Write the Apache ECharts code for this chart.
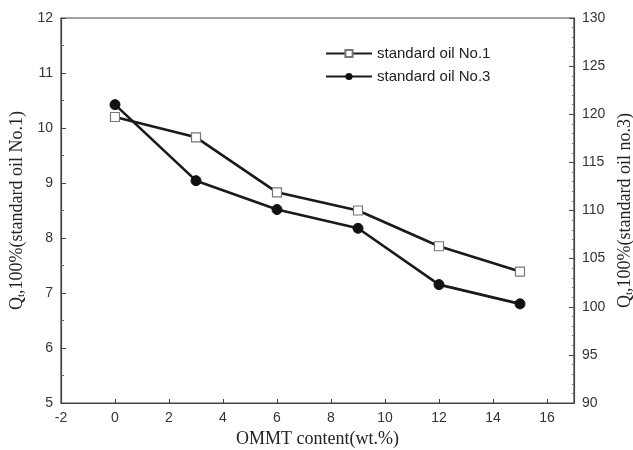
<!DOCTYPE html>
<html><head><meta charset="utf-8">
<script src="https://cdn.jsdelivr.net/npm/echarts@6/dist/echarts.min.js"></script>
<style>html,body{margin:0;padding:0;background:#fff}#c{width:633px;height:450px}</style>
</head><body><div id="c"></div>
<script>
const ommt = [0, 3, 6, 9, 12, 15];
const oil1 = [10.2, 9.83, 8.83, 8.5, 7.85, 7.39];
const oil3 = [121.0, 113.1, 110.1, 108.15, 102.3, 100.3];
const seriesNames = ['standard oil No.1', 'standard oil No.3'];

const chart = echarts.init(document.getElementById('c'));
const tickLabel = {color: '#333', fontFamily: 'Liberation Sans, Arial', fontSize: 14};
const nameStyle = {fontFamily: 'Liberation Serif, Times New Roman', fontSize: 18, color: '#222',
  rich: {sub: {fontFamily: 'Liberation Serif', fontSize: 11, color: '#222', verticalAlign: 'bottom', padding: [8,0,0,0]}}};
chart.setOption({
  animation: false,
  grid: {left: 61, right: 59, top: 18, bottom: 47, show: true, borderColor: '#444', borderWidth: 1.2,
         backgroundColor: 'transparent', containLabel: false, outerBoundsMode: 'none'},
  legend: {
    data: seriesNames, orient: 'vertical', left: 320, top: 41, itemGap: 8, itemWidth: 46, itemHeight: 9,
    textStyle: {fontFamily: 'Liberation Sans, Arial', fontSize: 15, color: '#222'}
  },
  xAxis: {
    type: 'value', min: -2, max: 17, interval: 2,
    name: 'OMMT content(wt.%)', nameLocation: 'middle', nameGap: 26,
    nameTextStyle: nameStyle,
    axisLine: {onZero: false, lineStyle: {color: '#444', width: 1.2}},
    axisTick: {inside: true, length: 4, lineStyle: {color: '#444'}},
    minorTick: {show: false},
    splitLine: {show: false},
    axisLabel: Object.assign({margin: 8, formatter: v => (v > 16 ? '' : v)}, tickLabel)
  },
  yAxis: [{
    type: 'value', min: 5, max: 12, interval: 1,
    name: 'Q{sub|t},100%(standard oil No.1)', nameLocation: 'middle', nameGap: 30,
    nameTextStyle: nameStyle,
    axisLine: {show: true, onZero: false, lineStyle: {color: '#444', width: 1.2}},
    axisTick: {inside: true, length: 5, lineStyle: {color: '#444'}},
    minorTick: {show: true, splitNumber: 2, length: 3, lineStyle: {color: '#666'}},
    splitLine: {show: false},
    axisLabel: Object.assign({margin: 8}, tickLabel)
  }, {
    type: 'value', min: 90, max: 130, interval: 5, position: 'right',
    name: 'Q{sub|t},100%(standard oil no.3)', nameLocation: 'middle', nameGap: 28, nameRotate: 90,
    nameTextStyle: nameStyle,
    axisLine: {show: true, onZero: false, lineStyle: {color: '#444', width: 1.2}},
    axisTick: {inside: true, length: 5, lineStyle: {color: '#444'}},
    minorTick: {show: true, splitNumber: 5, length: 2, lineStyle: {color: '#777'}},
    splitLine: {show: false},
    axisLabel: Object.assign({margin: 8}, tickLabel)
  }],
  series: [{
    name: seriesNames[0], type: 'line', yAxisIndex: 0,
    data: ommt.map((x, i) => [x, oil1[i]]),
    symbol: 'rect', symbolSize: 9,
    lineStyle: {color: '#1a1a1a', width: 2.6},
    itemStyle: {color: '#fff', borderColor: '#777', borderWidth: 1.2}
  }, {
    name: seriesNames[1], type: 'line', yAxisIndex: 1,
    data: ommt.map((x, i) => [x, oil3[i]]),
    symbol: 'circle', symbolSize: 10,
    lineStyle: {color: '#1a1a1a', width: 2.6},
    itemStyle: {color: '#111', borderColor: '#111'}
  }]
});
</script></body></html>
